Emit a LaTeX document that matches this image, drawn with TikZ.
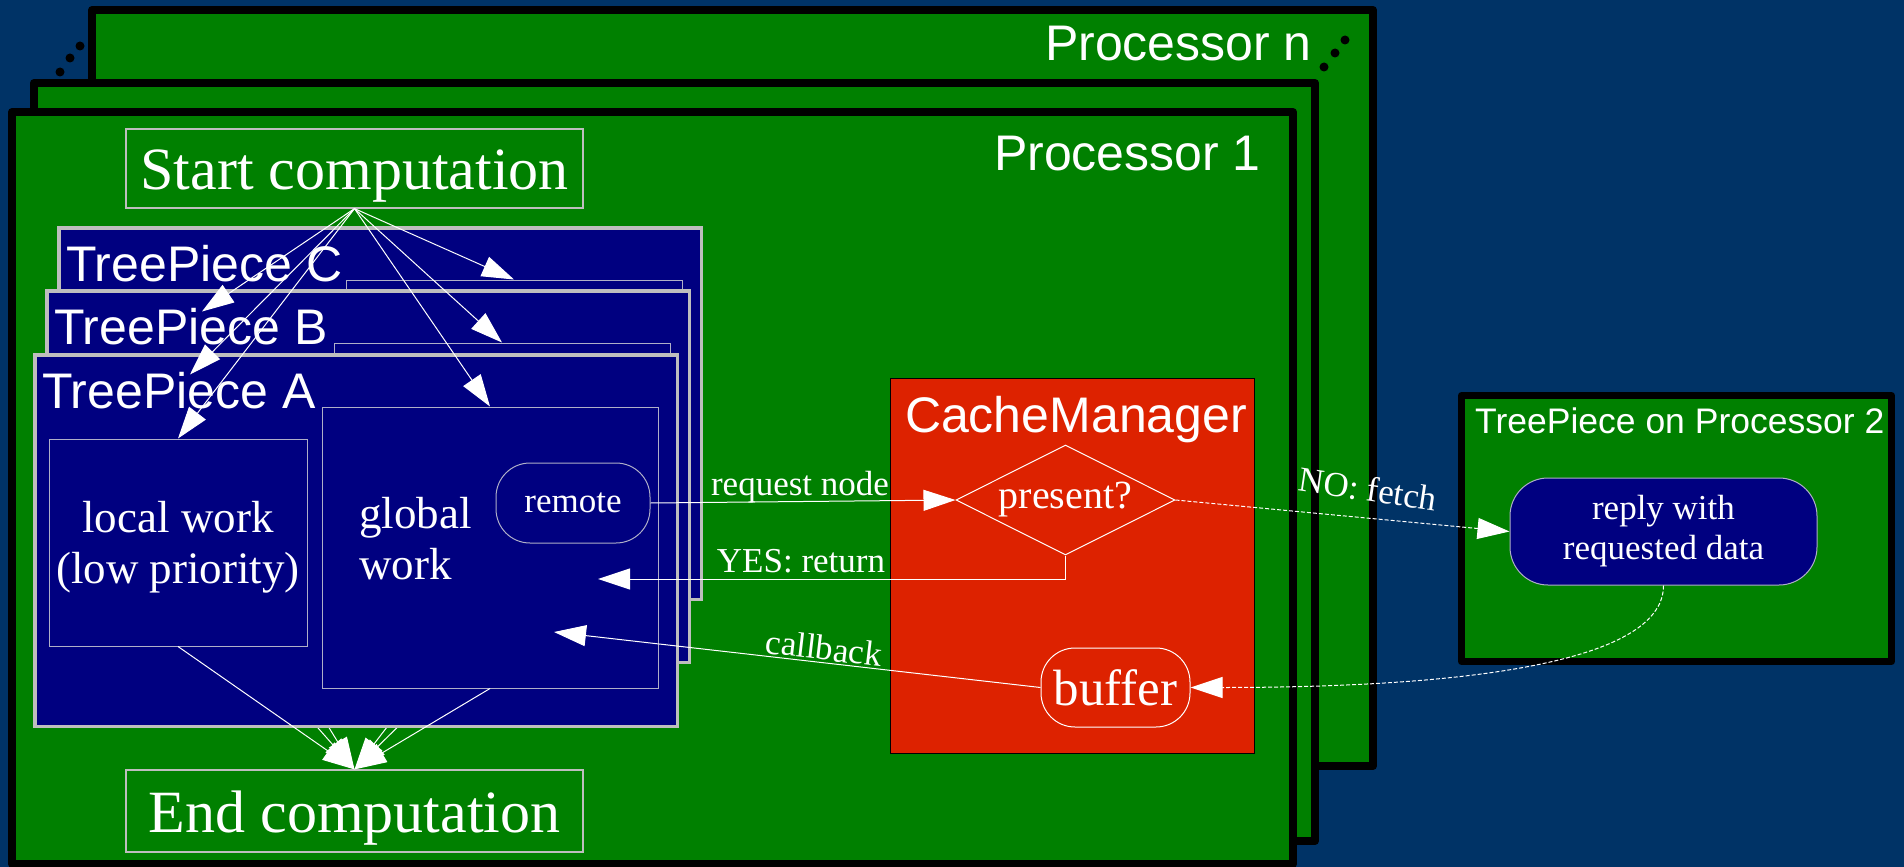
\documentclass[tikz,border=0pt]{standalone}
\usepackage{fontspec}
\setmainfont{Liberation Serif}
\setsansfont{Liberation Sans}
\usetikzlibrary{arrows.meta, shapes.geometric}

\definecolor{bgblue}{RGB}{0,51,102}
\definecolor{procgreen}{RGB}{0,128,0}
\definecolor{piecenavy}{RGB}{0,0,128}
\definecolor{cachered}{RGB}{221,34,0}
\definecolor{piecegray}{RGB}{190,190,190}
\definecolor{boxgray}{RGB}{175,175,200}

\begin{document}
\begin{tikzpicture}[x = 1pt, y = -1pt,
    proc/.style = {draw = black, line width = 8pt, fill = procgreen, line join = round},
    plabel/.style = {text = white, inner sep = 0pt, font = \sffamily\fontsize{50}{60}\selectfont},
    piece/.style = {draw = piecegray, line width = 3.5pt, fill = piecenavy, inner sep = 0pt,
      minimum width = 642.5pt, minimum height = 371.5pt},
    work/.style = {draw = boxgray, line width = 1pt, fill = piecenavy, inner sep = 0pt},
    worktext/.style = {text = white, inner sep = 0pt, align = center, font = \fontsize{45}{51}\selectfont},
    term/.style = {draw = piecegray, line width = 1.2pt, text = white, inner sep = 0pt,
      minimum width = 457pt, text height = 42pt, text depth = 0pt, font = \fontsize{60}{70}\selectfont},
    rbox/.style = {draw = white, line width = 1pt, rounded corners = 34pt, text = white, inner sep = 0pt},
    lbl/.style = {text = white, inner sep = 0pt, font = \fontsize{35}{40}\selectfont},
    flow/.style = {white, line width = 1pt, -{Triangle[length = 32pt, width = 21pt]}},
    fetch/.style = {flow, dash pattern = on 4pt off 2pt}]

    \fill [bgblue] (0,0) rectangle (1904,867);
    \useasboundingbox (0,0) rectangle (1904,867);

    \draw [proc] (92,10) rectangle (1373,766);
    \draw [proc] (34,83) rectangle (1315,841);
    \draw [proc] (12,112) rectangle (1293,864);
    \foreach \p in {(80,46), (70,58), (60,72), (1345,40), (1335,53), (1324,67)}
        \fill [black] \p circle (4.5pt);
    \node (procn) at (1312,60) [plabel, anchor = base east] {Processor n};
    \node (procone) at (1261,170) [plabel, anchor = base east] {Processor 1};

    \node (startcomp) at (354.5,168.5) [term, minimum height = 79pt] {Start computation};
    \node (endcomp) at (354.5,811) [term, minimum height = 82pt] {End computation};

    \foreach \tp/\dx/\dy in {C/24/-127, B/12/-64, A/0/0} {
        \begin{scope}[shift = {(\dx,\dy)}]
            \node (piece\tp) at (356,540.5) [piece] {};
            \node (name\tp) at (42,408) [plabel, anchor = base west] {TreePiece \tp};
            \node (local\tp) at (178,542.5) [work, minimum width = 258pt, minimum height = 207pt] {};
            \node (global\tp) at (490,547.5) [work, minimum width = 336pt, minimum height = 281pt] {};
            \draw [flow] (local\tp.south) -- (endcomp.north);
            \draw [flow] (global\tp.south) -- (endcomp.north);
        \end{scope}
    }
    \node (localtext) at (178,547) [worktext] {local work\\(low priority)};
    \node (globaltext) at (359,497) [worktext, anchor = north west, align = left] {global\\work};
    \node (remote) at (573,503) [rbox, fill = piecenavy, draw = boxgray, minimum width = 154pt,
        minimum height = 80pt, font = \fontsize{35}{40}\selectfont] {remote};

    \foreach \tp in {C, B, A} {
        \draw [flow] (startcomp.south) -- (local\tp.north);
        \draw [flow] (startcomp.south) -- (global\tp.north);
    }

    \draw [black, line width = 1pt, fill = cachered] (890,378) rectangle (1254,753);
    \node (cachename) at (1076,432) [plabel, anchor = base, text depth = 0pt] {CacheManager};
    \node (present) at (1065.5,500) [diamond, aspect = 2, draw = white, line width = 1pt, inner sep = 0pt,
        minimum width = 219pt, minimum height = 110pt, text = white, font = \fontsize{40}{48}\selectfont] {present?};
    \node (buffer) at (1115.5,687.5) [rbox, minimum width = 149pt, minimum height = 79pt,
        font = \fontsize{51}{60}\selectfont] {buffer};

    \draw [flow] (remote.east) -- (present.west);
    \node (reqlabel) at (800,495) [lbl, anchor = base] {request node};
    \coordinate (yesend) at (598,579);
    \draw [flow] (present.south) |- (yesend);
    \node (yeslabel) at (801,572) [lbl, anchor = base] {YES: return};
    \coordinate (cbend) at (554,632);
    \draw [flow] (buffer.west) -- (cbend);
    \node (cblabel) at (824,648) [lbl, rotate = -6.7] {callback};

    \draw [proc, line width = 7pt] (1461.5,395.5) rectangle (1891.5,661.5);
    \node (tptwo) at (1475,433) [anchor = base west, text = white, inner sep = 0pt,
        font = \sffamily\fontsize{35.5}{40}\selectfont] {TreePiece on Processor 2};
    \node (reply) at (1663.5,531.5) [rbox, fill = piecenavy, draw = boxgray, rounded corners = 38pt,
        minimum width = 307pt, minimum height = 107pt, align = center,
        font = \fontsize{35}{40}\selectfont] {reply with\\requested data};

    \draw [fetch] (present.east) -- (reply.west);
    \node (nolabel) at (1368,489) [lbl, rotate = -8.5] {NO: fetch};
    \draw [fetch] (reply.south) .. controls +(0,80) and +(260,0) .. (buffer.east);
\end{tikzpicture}
\end{document}
